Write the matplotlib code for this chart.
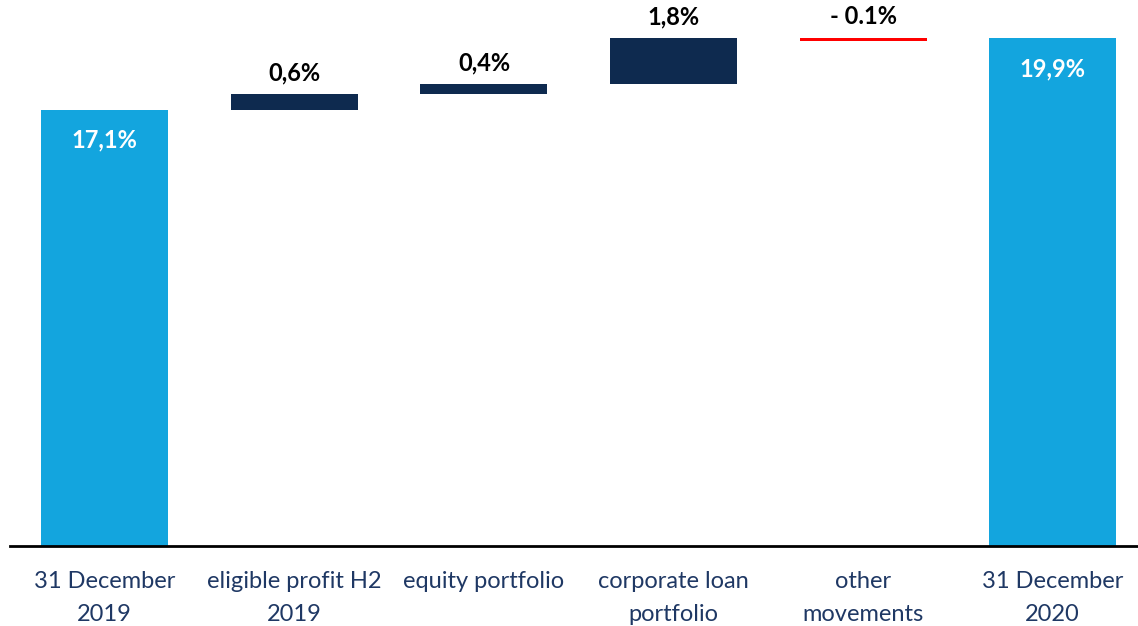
import numpy as np
import matplotlib.pyplot as plt

categories = ['31 December\n2019', 'eligible profit H2\n2019', 'equity portfolio',
              'corporate loan\nportfolio', 'other\nmovements', '31 December\n2020']
changes = [17.1, 0.6, 0.4, 1.8, -0.1, 19.9]
labels = ['17,1%', '0,6%', '0,4%', '1,8%', '- 0.1%', '19,9%']
kinds = ['total', 'step', 'step', 'step', 'step', 'total']

plt.rcParams['font.family'] = ['Lato', 'DejaVu Sans']

fig = plt.figure(figsize=(11.38, 6.26), dpi=100)
ax = fig.add_axes([0.0088, 0.1278, 0.9912, 0.8722])

x = np.arange(len(categories))
running = 0.0
for i, (c, k) in enumerate(zip(changes, kinds)):
    if k == 'total':
        ax.bar(x[i], c, width=0.67, color='#13a5de')
        ax.text(x[i], c - 1.2, labels[i], ha='center', va='center',
                color='white', fontsize=17, fontweight='bold')
        running = c
    else:
        if c >= 0:
            ax.bar(x[i], c, bottom=running, width=0.67, color='#0e2a4f')
            ax.text(x[i], running + c + 0.85, labels[i], ha='center', va='center',
                    color='black', fontsize=17, fontweight='bold')
            running += c
        else:
            ax.bar(x[i], c, bottom=running, width=0.67, color='#ff0000')
            ax.text(x[i], running + 0.85, labels[i], ha='center', va='center',
                    color='black', fontsize=17, fontweight='bold')

ax.set_xlim(-0.5, 5.45)
ax.set_ylim(0, 21.4)
ax.set_xticks(x)
ax.set_xticklabels(categories, fontsize=17, color='#1f3864', linespacing=1.7)
ax.tick_params(axis='x', length=0, pad=18)
ax.set_yticks([])
for s in ['left', 'right', 'top']:
    ax.spines[s].set_visible(False)
ax.spines['bottom'].set_linewidth(2)

fig.savefig('out.png', dpi=100)
